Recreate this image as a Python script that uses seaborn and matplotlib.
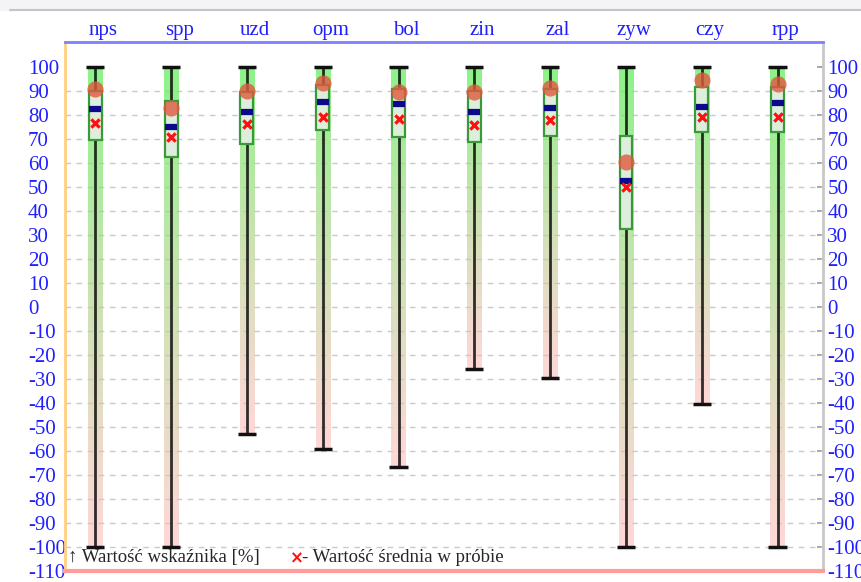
import numpy as np
import matplotlib
matplotlib.use('Agg')
import matplotlib.pyplot as plt
import matplotlib.transforms as mtransforms
from matplotlib.lines import Line2D
import seaborn as sn
import pandas as pd

cats=['nps','spp','uzd','opm','bol','zin','zal','zyw','czy','rpp']
wmax=[100,100,100,100,100,100,100,100,100,100]
wmin=[-100,-100,-53,-59.3,-66.5,-25.7,-29.6,-100,-40.5,-100]
q1=[69.6,62.7,68.0,73.8,70.8,68.7,71.3,32.5,73.1,73.1]
q3=[90.0,86.0,89.5,92.5,91.0,89.8,91.0,71.3,91.6,91.8]
med=[82.5,75.2,81.2,85.3,84.5,81.2,83.1,52.3,83.5,85.2]
mean=[76.6,71.0,76.3,79.3,78.3,75.9,78.0,50.2,79.3,79.1]
dot=[90.7,83.1,90.2,93.2,89.7,89.5,91.4,60.4,94.6,92.9]
yticks=list(range(-110,101,10))

sn.set_style('white')
plt.rcParams['font.family']=['Liberation Serif','DejaVu Serif']

df=pd.DataFrame({'x':np.arange(len(cats)),'cat':cats,'wmin':wmin,'wmax':wmax,
                 'q1':q1,'q3':q3,'med':med,'mean':mean,'dot':dot})

blue='#1f1fff'
fig=plt.figure(figsize=(8.62,5.82),dpi=100)
fig.patches.append(plt.Rectangle((0,0.983),1,0.017,transform=fig.transFigure,color='#f4f4f7',zorder=0))
fig.add_artist(Line2D([0.012,1],[0.983,0.983],transform=fig.transFigure,color='#c4c4c4',lw=1.5))
ax=fig.add_axes([0.0754,0.0189,0.8794,0.9089])

# dashed grid
ax.hlines([t for t in yticks if -100<=t<100],-0.4,9.6,colors='#c9c9c9',linestyles=(0,(4,4)),lw=1,zorder=0.5)

# gradient bands green -> pink
bw=0.19
top=np.array([0.42,0.94,0.40,0.78]) ; bot=np.array([1.0,0.72,0.72,0.55])
for i,r in df.iterrows():
    g=np.linspace(0,1,200)[:,None]
    rgba=(bot[None,:]*(1-g)+top[None,:]*g)[:,None,:]
    ax.imshow(rgba,extent=(r.x-bw/2,r.x+bw/2,r.wmin,r.wmax),origin='lower',aspect='auto',zorder=1,interpolation='bilinear')

# whiskers and caps
ax.vlines(df.x,df.wmin,df.wmax,colors='k',lw=2,alpha=0.8,zorder=2)
ax.hlines(df.wmax,df.x-0.12,df.x+0.12,colors='#111111',lw=2.5,zorder=3)
ax.hlines(df.wmin,df.x-0.12,df.x+0.12,colors='#111111',lw=2.5,zorder=3)

# boxes
ax.bar(df.x,df.q3-df.q1,bottom=df.q1,width=0.17,color='#ddefdc',edgecolor='#3a9a3a',linewidth=1.6,zorder=3)

# markers
sn.scatterplot(data=df,x='x',y='med',marker='_',s=80,linewidth=4.5,color='#0a0a8a',ax=ax,zorder=4)
sn.scatterplot(data=df,x='x',y='mean',marker='x',s=36,linewidth=2.3,color='#ff1010',ax=ax,zorder=4)
sn.scatterplot(data=df,x='x',y='dot',marker='o',s=135,linewidth=0,color='#e0583f',alpha=0.8,ax=ax,zorder=5)

ax.set_xlim(-0.4,9.6)
ax.set_ylim(-110,110.4)
ax.set_xlabel('') ; ax.set_ylabel('')

# top category labels
ax.xaxis.tick_top()
ax.set_xticks(df.x)
ax.set_xticklabels(cats,fontsize=15,color=blue)
ax.tick_params(axis='x',length=0,pad=1.5)
offset=mtransforms.ScaledTranslation(8/100,0,fig.dpi_scale_trans)
for lab in ax.get_xticklabels():
    lab.set_transform(lab.get_transform()+offset)

# left labels
ax.set_yticks(yticks)
ax.set_yticklabels([str(t) for t in yticks],fontsize=15,color=blue,ha='left')
ax.tick_params(axis='y',direction='in',length=4,width=1.2,color='#999999',pad=26.6)

# right labels
ax2=ax.secondary_yaxis('right')
ax2.set_yticks(yticks)
ax2.set_yticklabels([str(t) for t in yticks],fontsize=15,color=blue)
ax2.tick_params(axis='y',direction='in',length=4,width=1.2,color='#999999',pad=3)
ax2.spines['right'].set_color('#c8c8c8') ; ax2.spines['right'].set_linewidth(2)

ax.spines['right'].set_visible(False)
ax.spines['top'].set_color('#7f7fff') ; ax.spines['top'].set_linewidth(2)
ax.spines['left'].set_color('#ffd080') ; ax.spines['left'].set_linewidth(2)
ax.spines['bottom'].set_color('#ff9c9c') ; ax.spines['bottom'].set_linewidth(3)

# legend texts
ax.text(0.004,0.026,'\u2191 Warto\u015b\u0107 wska\u017anika [%]',transform=ax.transAxes,fontsize=13.5,ha='left',va='center',zorder=6)
ax.text(0.306,0.024,'\u00d7',transform=ax.transAxes,fontsize=12,color='#ff1010',weight='bold',ha='center',va='center',family=['DejaVu Sans'],zorder=6)
ax.text(0.313,0.026,'- Warto\u015b\u0107 \u015brednia w pr\u00f3bie',transform=ax.transAxes,fontsize=13.5,ha='left',va='center',zorder=6)

plt.savefig('out.png',dpi=100)
plt.close()
